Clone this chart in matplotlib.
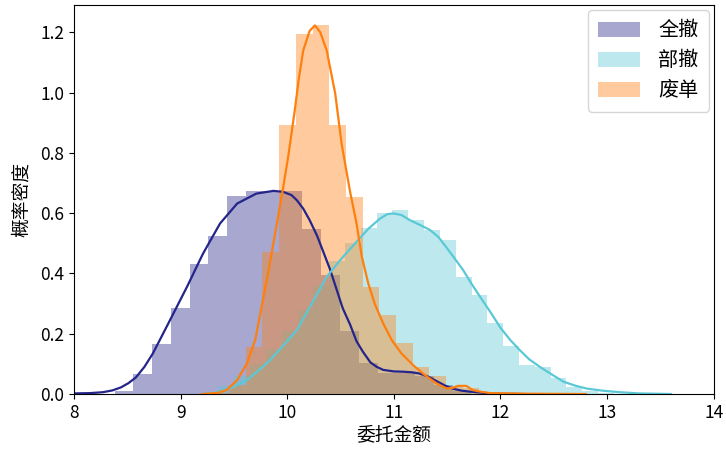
import matplotlib
matplotlib.use("Agg")
import matplotlib.pyplot as plt
import numpy as np

plt.rcParams['font.family'] = ['Noto Sans CJK SC', 'DejaVu Sans']
plt.rcParams['axes.unicode_minus'] = False

labels = ['全撤', '部撤', '废单']
colors = ['#24248a', '#5bc8d6', '#ff7f0e']

# histogram bars: first edge, bin width, bar heights (density)
quan_start, quan_width = 8.380, 0.1762
quan_heights = [0.01, 0.066, 0.166, 0.286, 0.43, 0.525, 0.656, 0.673, 0.673, 0.673,
                0.549, 0.394, 0.21, 0.104, 0.07, 0.07, 0.06, 0.03, 0.01]

bu_start, bu_width = 9.206, 0.1484
bu_heights = [0.008, 0.025, 0.06, 0.10, 0.15, 0.21, 0.28, 0.36, 0.44, 0.50, 0.55,
              0.601, 0.612, 0.577, 0.544, 0.51, 0.387, 0.33, 0.235, 0.16, 0.095,
              0.09, 0.052, 0.024, 0.01, 0.005]

fei_start, fei_width = 9.298, 0.1565
fei_heights = [0.005, 0.03, 0.157, 0.47, 0.892, 1.195, 1.223, 0.893, 0.654, 0.355,
               0.262, 0.17, 0.09, 0.06, 0.025, 0.02, 0.005]

# kde curves
quan_kde_x = [8.0, 8.15, 8.27, 8.36, 8.44, 8.51, 8.58, 8.66, 8.74, 8.82, 8.9, 9.06, 9.21,
              9.37, 9.53, 9.71, 9.87, 9.96, 10.04, 10.09, 10.15, 10.21, 10.28, 10.34, 10.4,
              10.46, 10.52, 10.59, 10.65, 10.71, 10.78, 10.84, 10.9, 11.0, 11.09, 11.17,
              11.24, 11.32, 11.4, 11.48, 11.56, 11.64, 11.71, 11.84, 12.0, 12.2]
quan_kde_y = [0.002, 0.003, 0.006, 0.012, 0.022, 0.036, 0.055, 0.09, 0.135, 0.19, 0.245,
              0.356, 0.466, 0.566, 0.632, 0.665, 0.674, 0.671, 0.66, 0.643, 0.615, 0.577,
              0.525, 0.47, 0.415, 0.35, 0.285, 0.23, 0.175, 0.14, 0.105, 0.09, 0.08,
              0.075, 0.074, 0.072, 0.068, 0.058, 0.043, 0.028, 0.017, 0.011, 0.008,
              0.004, 0.001, 0.0]

bu_kde_x = [9.2, 9.3, 9.37, 9.5, 9.62, 9.73, 9.84, 9.96, 10.09, 10.23, 10.37, 10.51,
            10.65, 10.76, 10.87, 10.94, 11.0, 11.07, 11.15, 11.25, 11.34, 11.42, 11.49,
            11.57, 11.65, 11.73, 11.81, 11.9, 12.0, 12.09, 12.18, 12.27, 12.37, 12.49,
            12.59, 12.7, 12.81, 12.96, 13.12, 13.3, 13.6]
bu_kde_y = [0.0, 0.004, 0.008, 0.025, 0.046, 0.078, 0.113, 0.16, 0.212, 0.30, 0.389,
            0.45, 0.505, 0.548, 0.582, 0.597, 0.599, 0.594, 0.577, 0.56, 0.544, 0.52,
            0.488, 0.45, 0.411, 0.365, 0.322, 0.275, 0.22, 0.18, 0.146, 0.115, 0.09,
            0.063, 0.041, 0.028, 0.018, 0.011, 0.006, 0.002, 0.0]

fei_kde_x = [9.2, 9.35, 9.43, 9.53, 9.62, 9.7, 9.76, 9.82, 9.88, 9.95, 10.01, 10.07,
             10.11, 10.15, 10.21, 10.26, 10.31, 10.37, 10.45, 10.51, 10.59, 10.65, 10.7,
             10.76, 10.82, 10.9, 10.98, 11.07, 11.18, 11.29, 11.4, 11.49, 11.55, 11.6,
             11.68, 11.74, 11.81, 11.9, 12.3, 12.8]
fei_kde_y = [0.0, 0.004, 0.013, 0.046, 0.10, 0.18, 0.29, 0.40, 0.52, 0.66, 0.79, 0.94,
             1.05, 1.14, 1.205, 1.223, 1.20, 1.14, 0.997, 0.83, 0.67, 0.566, 0.455,
             0.367, 0.30, 0.234, 0.179, 0.135, 0.096, 0.063, 0.035, 0.019, 0.02, 0.027,
             0.027, 0.013, 0.008, 0.003, 0.001, 0.0]

fig = plt.figure(figsize=(7.26, 4.5), dpi=100)
ax = fig.add_axes([0.102, 0.1244, 0.881, 0.864])

series = [
    (quan_start, quan_width, quan_heights, quan_kde_x, quan_kde_y),
    (bu_start, bu_width, bu_heights, bu_kde_x, bu_kde_y),
    (fei_start, fei_width, fei_heights, fei_kde_x, fei_kde_y),
]
handles = []
for (start, width, heights, kx, ky), lab, c in zip(series, labels, colors):
    lefts = start + width * np.arange(len(heights))
    bars = ax.bar(lefts, heights, width=width, align='edge', color=c, alpha=0.4,
                  linewidth=0, label=lab)
    handles.append(bars)
    ax.plot(kx, ky, color=c, lw=1.6)

ax.set_xlim(8, 14)
ax.set_ylim(0, 1.29)
ax.set_yticks(np.arange(0, 1.21, 0.2))
ax.set_yticklabels(['%.1f' % v for v in np.arange(0, 1.21, 0.2)])
ax.tick_params(labelsize=12.5)
ax.set_xlabel('委托金额', fontsize=13.5, labelpad=2)
ax.set_ylabel('概率密度', fontsize=13.5, labelpad=6)
ax.legend(handles=handles, labels=labels, loc='upper right', fontsize=14.5,
          handlelength=2.1, handleheight=0.8, handletextpad=0.9,
          labelspacing=0.45, borderaxespad=0.25, borderpad=0.5)

fig.savefig('out.png', dpi=100)
